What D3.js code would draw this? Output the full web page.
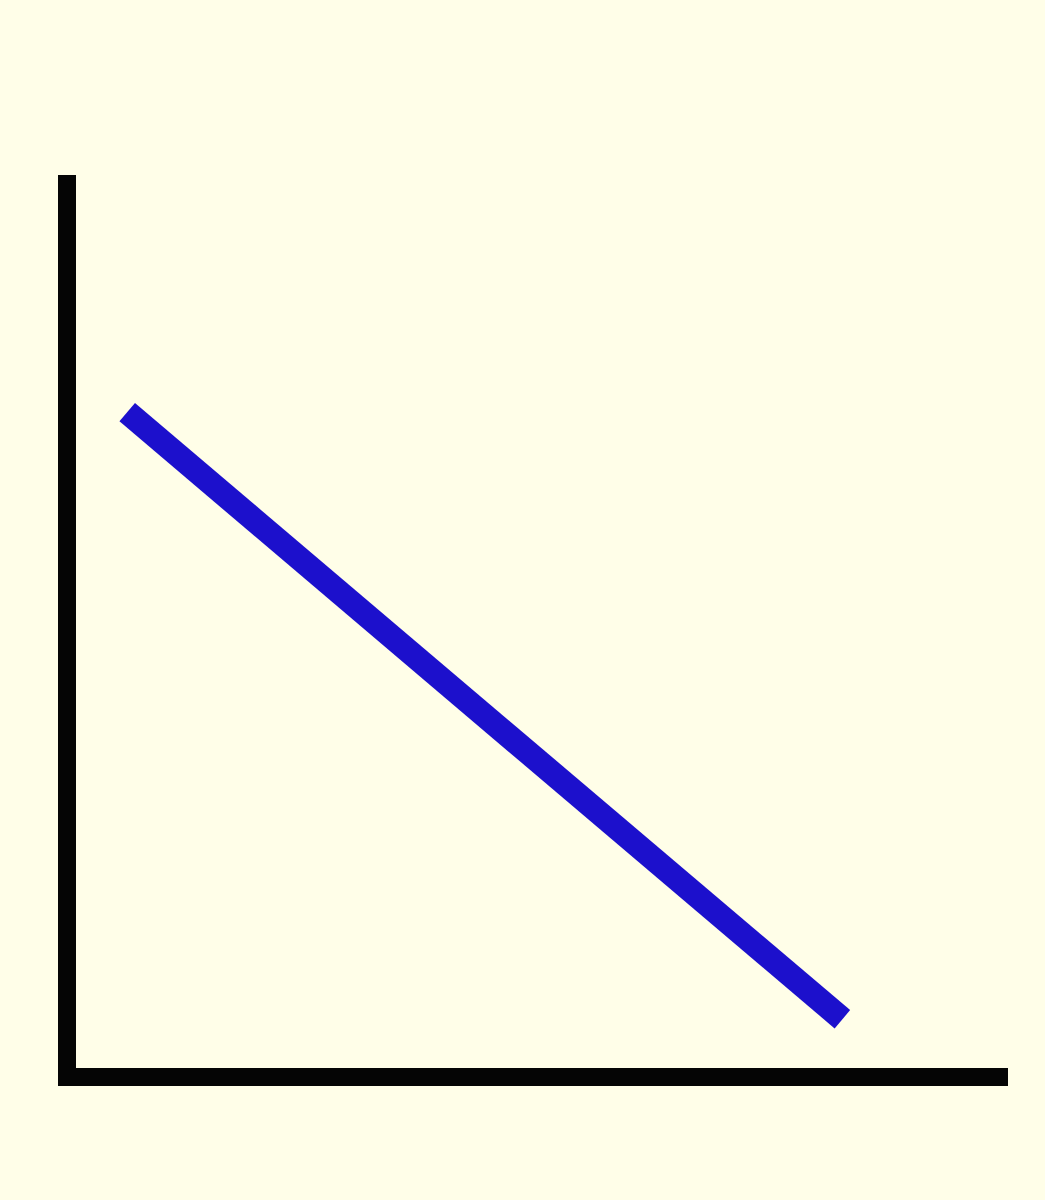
<!DOCTYPE html>
<html>
<head>
<meta charset="utf-8">
<script src="https://cdn.jsdelivr.net/npm/d3@7"></script>
<style>
  html, body { margin: 0; padding: 0; background: #FFFEE8; }
  svg { display: block; }
</style>
</head>
<body>
<svg id="chart" width="1045" height="1200"></svg>
<script>
// Data (arbitrary units)
const xValues = [6.4, 82.4];
const yValues = [73.7, 6.4];
const xDomain = [0, 100];
const yDomain = [0, 100];

const W = 1045, H = 1200;
const margin = { left: 67, right: 37, top: 175, bottom: 123 };

const svg = d3.select("#chart");
svg.append("rect").attr("width", W).attr("height", H).attr("fill", "#FFFEE8");

const x = d3.scaleLinear().domain(xDomain).range([margin.left, W - margin.right]);
const y = d3.scaleLinear().domain(yDomain).range([H - margin.bottom, margin.top]);

// Axes (no ticks)
const axisColor = "#050505";
svg.append("line")
  .attr("x1", x(xDomain[0])).attr("y1", y(yDomain[1]))
  .attr("x2", x(xDomain[0])).attr("y2", y(yDomain[0]) + 9)
  .attr("stroke", axisColor).attr("stroke-width", 18).attr("stroke-linecap", "butt");
svg.append("line")
  .attr("x1", x(xDomain[0]) - 9).attr("y1", y(yDomain[0]))
  .attr("x2", x(xDomain[1])).attr("y2", y(yDomain[0]))
  .attr("stroke", axisColor).attr("stroke-width", 18).attr("stroke-linecap", "butt");

// Series line
const pts = xValues.map((v, i) => [v, yValues[i]]);
svg.append("path")
  .datum(pts)
  .attr("d", d3.line().x(d => x(d[0])).y(d => y(d[1])))
  .attr("fill", "none")
  .attr("stroke", "#1C10CC")
  .attr("stroke-width", 24)
  .attr("stroke-linecap", "butt");
</script>
</body>
</html>
